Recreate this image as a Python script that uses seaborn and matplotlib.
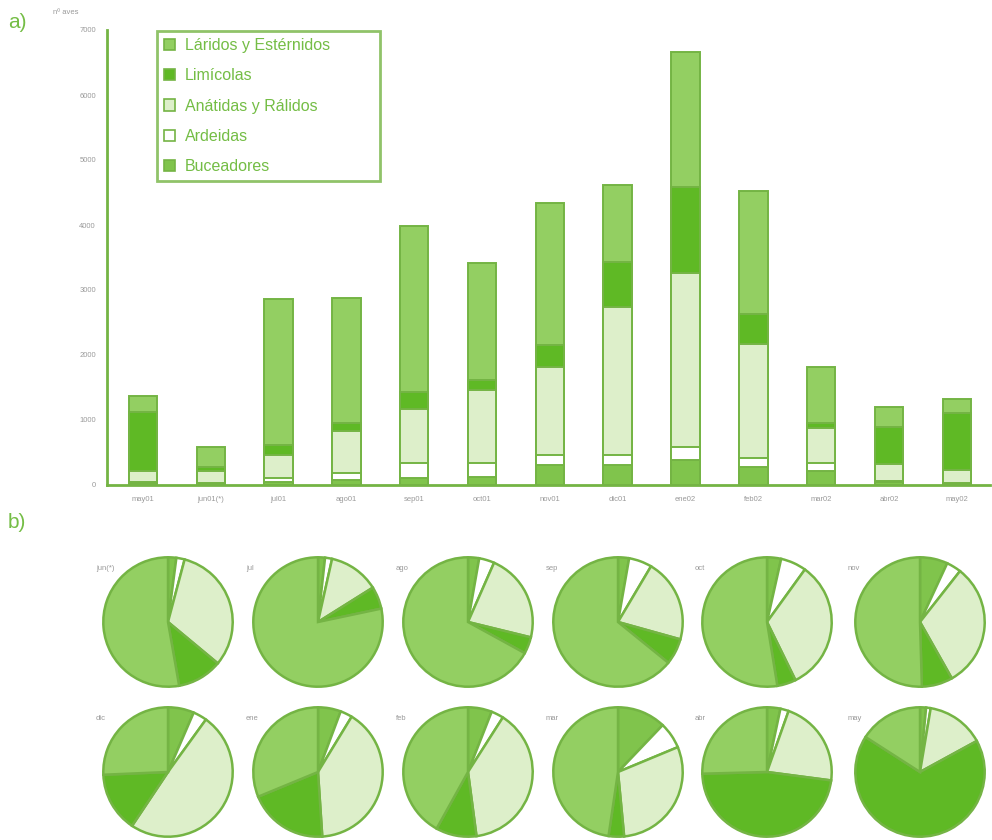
import matplotlib
matplotlib.use("Agg")
import matplotlib.pyplot as plt
from matplotlib.patches import Patch
import seaborn as sns
import pandas as pd
import numpy as np

# ---------------- data ----------------
months = ['may01', 'jun01(*)', 'jul01', 'ago01', 'sep01', 'oct01', 'nov01',
          'dic01', 'ene02', 'feb02', 'mar02', 'abr02', 'may02']
buceadores = [30, 12, 50, 80, 110, 120, 300, 300, 380, 270, 220, 40, 20]
ardeidas = [10, 12, 50, 110, 230, 220, 160, 160, 200, 140, 120, 25, 15]
anatidas = [170, 185, 360, 640, 830, 1120, 1355, 2280, 2680, 1760, 540, 260, 190]
limicolas = [920, 65, 160, 120, 260, 160, 335, 690, 1320, 460, 70, 570, 885]
laridos = [240, 306, 2240, 1930, 2560, 1795, 2190, 1185, 2080, 1900, 865, 305, 210]
pie_labels = ['jun(*)', 'jul', 'ago', 'sep', 'oct', 'nov',
              'dic', 'ene', 'feb', 'mar', 'abr', 'may']
legend_labels = ['Láridos y Estérnidos', 'Limícolas', 'Anátidas y Rálidos',
                 'Ardeidas', 'Buceadores']
yticks = [0, 1000, 2000, 3000, 4000, 5000, 6000, 7000]

# ---------------- style ----------------
C_LAR = "#93cf62"
C_LIM = "#5fb925"
C_ANA = "#ddefca"
C_ARD = "#ffffff"
C_BUC = "#80c44c"
EDGE = "#74b444"
GTXT = "#74bd45"
GREY = "#9a9a9a"

sns.set_theme(style="white")
plt.rcParams['font.family'] = ['Liberation Sans', 'DejaVu Sans']

W, H = 992, 840
fig = plt.figure(figsize=(W / 100, H / 100), dpi=100)
fig.patch.set_facecolor("white")


def fx(x):
    return x / W


def fy(y):
    return 1 - y / H


# ---------------- a) stacked bars ----------------
ax = fig.add_axes([fx(107), fy(485), (990 - 107) / W, (485 - 30) / H])

df = pd.DataFrame({"mes": months, "buc": buceadores, "ard": ardeidas,
                   "ana": anatidas, "lim": limicolas, "lar": laridos})
df["c_buc"] = df["buc"]
df["c_ard"] = df["c_buc"] + df["ard"]
df["c_ana"] = df["c_ard"] + df["ana"]
df["c_lim"] = df["c_ana"] + df["lim"]
df["c_lar"] = df["c_lim"] + df["lar"]

for col, c in [("c_lar", C_LAR), ("c_lim", C_LIM), ("c_ana", C_ANA),
               ("c_ard", C_ARD), ("c_buc", C_BUC)]:
    sns.barplot(data=df, x="mes", y=col, order=months, color=c, saturation=1,
                width=0.42, edgecolor=EDGE, linewidth=1.4, ax=ax, errorbar=None)

ax.set_xlim(-0.53, 12.49)
ax.set_ylim(0, 7000)
ax.set_yticks(yticks)
ax.set_yticklabels([str(v) for v in yticks], color=GREY, fontsize=5.5)
ax.set_xticks(range(len(months)))
ax.set_xticklabels(months, color=GREY, fontsize=5.5)
ax.set_xticks(np.arange(0.5, len(months) - 0.5, 1.0), minor=True)
ax.tick_params(axis='x', which='major', length=0, pad=8)
ax.tick_params(axis='x', which='minor', length=3, color=EDGE, width=1.2, direction='in')
ax.tick_params(axis='y', length=3, color=EDGE, width=1.2, direction='in', pad=8)
ax.set_xlabel("")
ax.set_ylabel("")
for s in ["top", "right"]:
    ax.spines[s].set_visible(False)
for s in ["left", "bottom"]:
    ax.spines[s].set_color(EDGE)
    ax.spines[s].set_linewidth(2)
ax.set_facecolor("white")

handles = [Patch(facecolor=c, edgecolor=EDGE, linewidth=1.2)
           for c in [C_LAR, C_LIM, C_ANA, C_ARD, C_BUC]]
leg = ax.legend(handles, legend_labels, loc='upper left',
                bbox_to_anchor=(fx(157), fy(187), 223 / W, 156 / H),
                bbox_transform=fig.transFigure, mode='expand',
                borderaxespad=0, frameon=True, fancybox=False,
                fontsize=11.5, labelcolor=GTXT, handlelength=0.7,
                handleheight=0.7, handletextpad=0.6, labelspacing=0.95,
                borderpad=0.45)
leg.get_frame().set_edgecolor(EDGE)
leg.get_frame().set_linewidth(2)

fig.text(fx(8), fy(22), "a)", color=GTXT, fontsize=15, va='center', ha='left')
fig.text(fx(53), fy(13), "nº aves", color=GREY, fontsize=5.5, va='center', ha='left')
fig.text(fx(8), fy(522), "b)", color=GTXT, fontsize=15, va='center', ha='left')

# ---------------- b) pies ----------------
cxs = [168, 318, 468, 618, 767, 920]
cys = [622, 772]
r = 66
for k in range(12):
    i = k + 1
    cx = cxs[k % 6]
    cy = cys[k // 6]
    pax = fig.add_axes([fx(cx - r), fy(cy + r), 2 * r / W, 2 * r / H])
    vals = [buceadores[i], ardeidas[i], anatidas[i], limicolas[i], laridos[i]]
    pax.pie(vals, colors=[C_BUC, C_ARD, C_ANA, C_LIM, C_LAR], startangle=90,
            counterclock=False, radius=1.0,
            wedgeprops=dict(edgecolor=EDGE, linewidth=1.8))
    pax.set_xlim(-1.02, 1.02)
    pax.set_ylim(-1.02, 1.02)
    pax.set_aspect('equal')
    fig.text(fx(cx - 72), fy(cy - 54), pie_labels[k], color=GREY, fontsize=5.5,
             ha='left', va='center')

fig.savefig("out.png", dpi=100, facecolor="white")
